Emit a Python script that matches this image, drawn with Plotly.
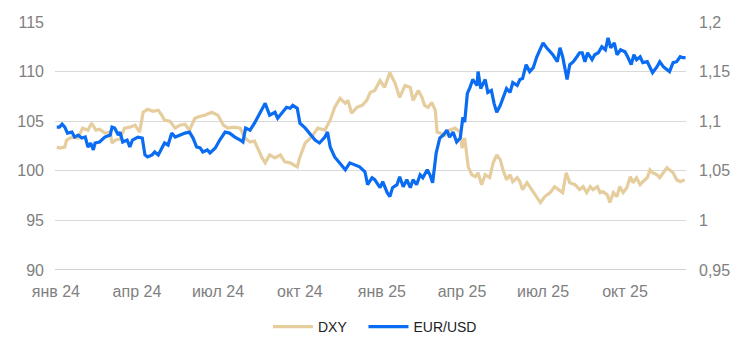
import pandas as pd
import plotly.graph_objects as go

# day offsets from 2024-01-01 and values
dxy_days = [1, 4, 10, 12, 18, 25, 30, 36, 40, 45, 49, 55, 61, 63, 67, 72, 77, 83, 89, 94,
            98, 103, 109, 115, 119, 122, 128, 134, 139, 145, 150, 156, 162, 167, 175, 182, 188, 193, 200, 207,
            212, 218, 223, 231, 235, 240, 246, 252, 257, 263, 271, 274, 280, 287, 294, 302, 308, 313, 319, 325,
            328, 332, 338, 344, 349, 353, 358, 364, 369, 375, 381, 386, 392, 398, 401, 407, 411, 414, 418, 422,
            426, 428, 431, 437, 442, 448, 454, 456, 459, 463, 467, 471, 474, 478, 482, 487, 491, 495, 499, 502,
            506, 510, 513, 518, 521, 524, 529, 532, 536, 540, 544, 549, 555, 560, 564, 569, 573, 577, 583, 588,
            592, 596, 600, 603, 608, 611, 614, 619, 622, 626, 630, 633, 637, 641, 645, 648, 652, 656, 659, 664,
            667, 670, 675, 678, 682, 686, 689, 693, 697, 701, 706]
dxy_vals = [102.4, 102.3, 102.4, 103.1, 103.4, 103.3, 104.3, 104.1, 104.8, 104.1, 104.2, 103.8, 103.9, 102.8, 103.1, 103.2, 104.3, 104.4, 104.6, 103.9,
            105.9, 106.2, 106.0, 106.1, 105.6, 105.1, 105.0, 104.3, 104.6, 104.7, 104.1, 105.3, 105.5, 105.6, 105.9, 105.6, 104.6, 104.3, 104.4, 104.3,
            103.3, 102.9, 103.0, 101.4, 100.8, 101.6, 101.3, 101.6, 100.9, 100.8, 100.4, 101.4, 102.8, 103.4, 104.3, 104.1, 105.1, 106.4, 107.3, 106.8,
            107.1, 105.8, 106.4, 106.6, 107.1, 107.9, 108.1, 109.1, 108.4, 109.9, 108.8, 107.4, 108.6, 108.4, 107.1, 108.1, 107.4, 106.6, 106.4, 106.9,
            106.1, 103.9, 103.8, 103.6, 104.1, 104.3, 103.9, 102.3, 103.3, 100.4, 99.6, 99.4, 99.8, 98.6, 99.6, 99.3, 100.8, 101.6, 101.1, 100.1,
            99.1, 99.6, 98.9, 99.3, 98.9, 98.1, 98.8, 98.4, 97.8, 97.3, 96.8, 97.4, 97.8, 98.4, 98.1, 97.8, 99.8, 98.8, 98.6, 98.1,
            98.4, 97.8, 98.4, 98.1, 98.4, 97.8, 97.9, 97.6, 96.8, 97.8, 97.4, 98.4, 97.8, 98.3, 99.4, 98.8, 99.3, 98.6, 98.9, 99.3,
            100.1, 99.8, 99.6, 99.3, 99.8, 100.3, 100.1, 99.8, 99.1, 98.9, 99.1]

eur_days = [1, 4, 7, 10, 13, 18, 21, 25, 29, 33, 36, 39, 42, 44, 49, 55, 61, 63, 66, 70,
            72, 75, 80, 83, 86, 92, 97, 100, 103, 108, 111, 115, 119, 122, 126, 130, 134, 139, 145, 150,
            154, 158, 162, 165, 170, 173, 179, 184, 190, 195, 201, 207, 210, 213, 218, 223, 229, 235, 240, 246,
            249, 254, 259, 263, 266, 271, 274, 280, 285, 291, 296, 302, 305, 308, 313, 319, 325, 330, 336, 341,
            347, 350, 355, 358, 364, 367, 372, 375, 378, 383, 386, 390, 394, 398, 401, 405, 409, 412, 417, 420,
            423, 427, 431, 435, 439, 442, 446, 450, 454, 457, 459, 462, 465, 468, 473, 474, 477, 482, 485, 489,
            492, 495, 499, 502, 506, 510, 513, 518, 521, 524, 528, 532, 536, 540, 544, 547, 551, 555, 558, 563,
            566, 569, 574, 577, 581, 585, 588, 591, 594, 597, 602, 605, 609, 613, 617, 620, 623, 627, 630, 634,
            639, 642, 646, 649, 652, 656, 659, 664, 667, 670, 675, 678, 682, 686, 689, 693, 697, 701, 704, 707]
eur_vals = [1.094, 1.094, 1.097, 1.094, 1.088, 1.089, 1.084, 1.086, 1.083, 1.084, 1.074, 1.078, 1.071, 1.078, 1.079, 1.084, 1.086, 1.094, 1.093, 1.086,
            1.089, 1.079, 1.081, 1.074, 1.081, 1.084, 1.083, 1.066, 1.064, 1.066, 1.069, 1.066, 1.073, 1.078, 1.076, 1.088, 1.084, 1.086, 1.088, 1.089,
            1.083, 1.074, 1.073, 1.069, 1.071, 1.068, 1.073, 1.081, 1.089, 1.088, 1.084, 1.081, 1.079, 1.093, 1.091, 1.098, 1.108, 1.118, 1.106, 1.109,
            1.103, 1.109, 1.114, 1.113, 1.116, 1.113, 1.098, 1.093, 1.088, 1.081, 1.078, 1.084, 1.089, 1.074, 1.064, 1.058, 1.051, 1.058, 1.056, 1.054,
            1.049, 1.036, 1.043, 1.041, 1.033, 1.039, 1.028, 1.024, 1.033, 1.036, 1.044, 1.034, 1.041, 1.033, 1.041, 1.036, 1.046, 1.043, 1.051, 1.046,
            1.038, 1.068, 1.083, 1.086, 1.091, 1.084, 1.089, 1.079, 1.083, 1.104, 1.099, 1.128, 1.134, 1.142, 1.136, 1.150, 1.133, 1.142, 1.129, 1.131,
            1.118, 1.109, 1.116, 1.124, 1.133, 1.129, 1.139, 1.136, 1.142, 1.143, 1.157, 1.150, 1.154, 1.165, 1.174, 1.179, 1.174, 1.170, 1.167, 1.160,
            1.174, 1.165, 1.142, 1.157, 1.160, 1.165, 1.169, 1.169, 1.160, 1.169, 1.162, 1.167, 1.169, 1.175, 1.172, 1.184, 1.174, 1.179, 1.167, 1.172,
            1.170, 1.165, 1.157, 1.167, 1.162, 1.165, 1.159, 1.160, 1.154, 1.149, 1.155, 1.160, 1.155, 1.152, 1.150, 1.159, 1.160, 1.165, 1.164, 1.164]

series_names = ["DXY", "EUR/USD"]
x_tick_dates = ["2024-01-01", "2024-04-01", "2024-07-01", "2024-10-01",
                "2025-01-01", "2025-04-01", "2025-07-01", "2025-10-01"]
x_tick_labels = ["янв 24", "апр 24", "июл 24", "окт 24", "янв 25", "апр 25", "июл 25", "окт 25"]
left_ticks = [90, 95, 100, 105, 110, 115]
right_ticks = [0.95, 1.0, 1.05, 1.1, 1.15, 1.2]
right_labels = ["0,95", "1", "1,05", "1,1", "1,15", "1,2"]

origin = pd.Timestamp("2024-01-01")
dxy_x = [origin + pd.Timedelta(days=d) for d in dxy_days]
eur_x = [origin + pd.Timedelta(days=d) for d in eur_days]

FONT = "Liberation Sans, Arial, sans-serif"
GREY = "#808080"
NBSP = "\u00a0"

fig = go.Figure()
fig.add_trace(go.Scatter(x=dxy_x, y=dxy_vals, name=series_names[0] + NBSP * 3, mode="lines",
                         line=dict(color="#E6CD9E", width=3.2), yaxis="y"))
fig.add_trace(go.Scatter(x=eur_x, y=eur_vals, name=series_names[1], mode="lines",
                         line=dict(color="#0A6CF2", width=3.2), yaxis="y2"))

fig.update_layout(
    width=746, height=355,
    margin=dict(l=55, r=60, t=22, b=85),
    paper_bgcolor="white", plot_bgcolor="white",
    font=dict(family=FONT, size=16, color=GREY),
    showlegend=True,
    legend=dict(orientation="h", x=(268 - 55) / 631, xanchor="left", y=-0.23, yanchor="middle",
                font=dict(size=14, color="#222222"), itemwidth=40, tracegroupgap=0),
    xaxis=dict(type="date", range=["2023-12-31", "2025-12-08 12:00"],
               tickvals=x_tick_dates, ticktext=x_tick_labels,
               showgrid=False, showline=False, zeroline=False, ticks="",
               tickfont=dict(size=16, color=GREY), ticklabelstandoff=10),
    yaxis=dict(range=[90, 115], tickvals=left_ticks, showgrid=True, gridcolor="#D9D9D9",
               gridwidth=1, zeroline=False, showline=False, ticks="",
               tickfont=dict(size=16, color=GREY), ticklabelstandoff=10),
    yaxis2=dict(range=[0.95, 1.2], tickvals=right_ticks, ticktext=right_labels,
                overlaying="y", side="right", showgrid=False, zeroline=False,
                showline=False, ticks="", tickfont=dict(size=16, color=GREY),
                ticklabelstandoff=12),
    shapes=[dict(type="line", xref="paper", yref="y", x0=0, x1=1, y0=90, y1=90,
                 line=dict(color="#D0D0D0", width=2), layer="below")],
)

fig.write_html("out.html")
